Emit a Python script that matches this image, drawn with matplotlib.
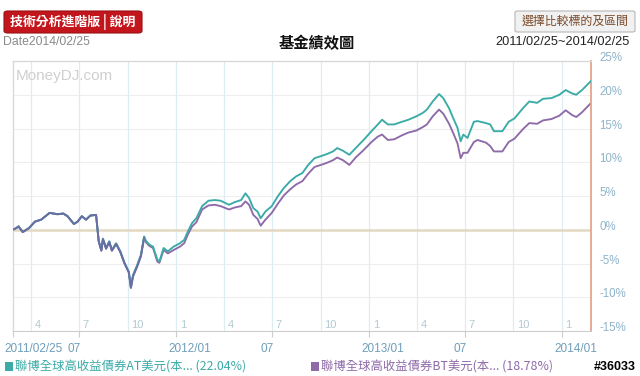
import matplotlib
matplotlib.use("Agg")
import matplotlib.pyplot as plt
import matplotlib.dates as mdates
from matplotlib.patches import FancyBboxPatch, Rectangle
import matplotlib.transforms as mtransforms
import datetime as dt

plt.rcParams['font.family'] = ['Liberation Sans', 'Noto Sans CJK TC', 'DejaVu Sans']

dates = ["2011-02-25","2011-03-04","2011-03-08","2011-03-16","2011-03-28","2011-04-08","2011-04-20",
         "2011-05-06","2011-05-21","2011-06-01","2011-06-09","2011-06-21","2011-06-28","2011-07-06",
         "2011-07-14","2011-07-22","2011-08-02","2011-08-07","2011-08-12","2011-08-15","2011-08-21",
         "2011-08-27","2011-09-01","2011-09-09","2011-09-17","2011-09-25","2011-10-03","2011-10-07",
         "2011-10-11","2011-10-19","2011-10-26","2011-11-01","2011-11-05","2011-11-11","2011-11-18",
         "2011-11-26","2011-11-30","2011-12-08","2011-12-16","2011-12-27","2012-01-08","2012-01-16",
         "2012-01-23","2012-01-31","2012-02-08","2012-02-19","2012-03-02","2012-03-14","2012-03-25",
         "2012-04-10","2012-04-21","2012-05-03","2012-05-11","2012-05-18","2012-05-26","2012-06-03",
         "2012-06-09","2012-06-18","2012-06-30","2012-07-11","2012-07-23","2012-08-04","2012-08-15",
         "2012-08-27","2012-09-07","2012-09-19","2012-10-01","2012-10-12","2012-10-24","2012-11-01",
         "2012-11-12","2012-11-24","2012-12-06","2012-12-21","2013-01-05","2013-01-17","2013-01-25",
         "2013-02-05","2013-02-17","2013-03-04","2013-03-16","2013-03-31","2013-04-12","2013-04-20",
         "2013-05-01","2013-05-13","2013-05-21","2013-06-01","2013-06-09","2013-06-17","2013-06-23",
         "2013-06-28","2013-07-06","2013-07-18","2013-07-25","2013-08-10","2013-08-18","2013-08-25",
         "2013-09-10","2013-09-22","2013-10-03","2013-10-19","2013-10-31","2013-11-15","2013-11-26",
         "2013-12-12","2013-12-27","2014-01-08","2014-01-20","2014-01-28","2014-02-08","2014-02-25"]

at_usd = [0.0,0.25,0.5,-0.35,0.25,1.2,1.5,
          2.5,2.3,2.4,2.0,0.85,1.2,2.0,
          1.5,2.1,2.2,-1.7,-3.0,-1.3,-2.7,
          -1.7,-3.0,-2.0,-3.2,-4.9,-6.2,-8.4,
          -6.7,-5.2,-3.7,-1.0,-1.7,-2.2,-2.5,
          -4.4,-4.7,-2.7,-3.2,-2.5,-2.0,-1.5,
          -0.25,1.0,1.7,3.5,4.3,4.4,4.3,
          3.7,4.1,4.4,5.4,4.7,3.2,2.7,
          1.7,2.7,3.5,4.9,6.2,7.2,7.9,
          8.4,9.6,10.6,10.9,11.2,11.6,12.1,
          11.7,11.1,12.1,13.3,14.6,15.6,16.3,
          15.6,15.6,16.0,16.3,16.8,17.3,17.8,
          19.0,20.1,19.5,18.0,16.5,15.1,13.1,
          14.1,13.6,16.0,16.1,15.8,15.6,14.6,
          14.6,16.0,16.5,18.0,19.0,18.8,19.4,
          19.5,20.0,20.7,20.2,20.0,20.7,22.04]

bt_usd = [0.0,0.25,0.5,-0.35,0.25,1.2,1.5,
          2.5,2.3,2.4,2.0,0.85,1.2,2.0,
          1.5,2.1,2.2,-1.7,-3.1,-1.4,-2.8,
          -1.8,-3.1,-2.1,-3.3,-5.0,-6.3,-8.6,
          -6.9,-5.4,-3.9,-1.2,-1.9,-2.4,-2.7,
          -4.7,-4.9,-3.0,-3.5,-3.0,-2.5,-2.0,
          -0.7,0.5,1.1,3.0,3.6,3.7,3.5,
          3.0,3.3,3.5,4.2,3.7,2.2,1.6,
          0.6,1.5,2.5,3.8,5.1,6.0,6.7,
          7.2,8.3,9.3,9.6,9.9,10.3,10.7,
          10.3,9.6,10.7,11.8,13.0,13.8,14.1,
          13.3,13.4,14.0,14.4,14.7,15.2,15.6,
          16.8,17.8,17.2,15.7,14.3,12.8,10.6,
          11.4,11.4,13.0,13.3,12.9,12.4,11.6,
          11.6,13.0,13.5,14.9,15.8,15.7,16.2,
          16.4,16.9,17.7,17.0,16.7,17.4,18.78]

y_ticks = [-15, -10, -5, 0, 5, 10, 15, 20, 25]
quarter_starts = ["2011-04-01","2011-07-01","2011-10-01","2012-01-01","2012-04-01","2012-07-01",
                  "2012-10-01","2013-01-01","2013-04-01","2013-07-01","2013-10-01","2014-01-01"]
quarter_labels = ["4","7","10","1","4","7","10","1","4","7","10","1"]
major_dates = ["2011-02-25","2011-07-01","2012-01-01","2012-07-01","2013-01-01","2013-07-01","2014-01-01"]
major_labels = ["2011/02/25","07","2012/01","07","2013/01","07","2014/01"]

legend_at = "聯博全球高收益債券AT美元(本... (22.04%)"
legend_bt = "聯博全球高收益債券BT美元(本... (18.78%)"

def d(s):
    return dt.datetime.strptime(s, "%Y-%m-%d")

x = [d(s) for s in dates]

W, H = 640, 376
fig = plt.figure(figsize=(W/100, H/100), dpi=100)
fig.patch.set_facecolor('white')

L, R, T, B = 12.7, 591, 61, 331
ax = fig.add_axes([L/W, 1-B/H, (R-L)/W, (B-T)/H])
ax.set_xlim(d("2011-02-25"), d("2014-02-25"))
ax.set_ylim(-15, 25)

teal = '#3aaba6'
purple = '#8e6aa8'
cjk = ['Noto Sans CJK TC', 'DejaVu Sans']

for v in y_ticks[1:-1]:
    if v != 0:
        ax.axhline(v, color='#eeeeee', lw=0.8, zorder=0)
for q in quarter_starts:
    ax.axvline(d(q), color='#dcedf3', lw=0.9, zorder=0)
ax.axhline(0, color='#e3d9c3', lw=1.8, zorder=1)

ax.plot(x, at_usd, color=teal, lw=1.35, zorder=3)
ax.plot(x, bt_usd, color=purple, lw=1.35, zorder=2.5)
# overlapping early segment: both series on top of each other
ax.plot(x[:32], bt_usd[:32], color='#6a6fa3', lw=1.4, zorder=4)

for sp in ['top', 'left']:
    ax.spines[sp].set_color('#d9d9d9')
    ax.spines[sp].set_linewidth(1.0)
ax.spines['bottom'].set_color('#cccccc')
ax.spines['right'].set_color('#e3a58a')
ax.spines['right'].set_linewidth(1.3)

ax.set_yticks([])
ax.set_xticks([d(s) for s in major_dates])
ax.set_xticklabels([])
ax.tick_params(axis='x', direction='out', length=4, color='#cccccc', width=0.8)

ytr = mtransforms.blended_transform_factory(ax.transAxes, ax.transData)
for v in y_ticks:
    ax.text(1.0, v, f"{v}%", transform=mtransforms.offset_copy(ytr, fig=fig, x=6, y=2, units='points'),
            ha='left', va='center', color='#8fb4ca', fontsize=8.3, clip_on=False)

xtr = mtransforms.blended_transform_factory(ax.transData, ax.transAxes)
for q, lab in zip(quarter_starts, quarter_labels):
    ax.text(d(q), 0.0, lab, transform=mtransforms.offset_copy(xtr, fig=fig, x=2.5, y=1, units='points'),
            ha='left', va='bottom', color='#b3c9d1', fontsize=8)

for s, lab in zip(major_dates, major_labels):
    if lab == "2011/02/25":
        off, ha = -6, 'left'
    elif lab == "07":
        off, ha = 1, 'right'
    else:
        off, ha = -5.5, 'left'
    ax.text(d(s), 0.0, lab, transform=mtransforms.offset_copy(xtr, fig=fig, x=off, y=-9, units='points'),
            ha=ha, va='top', color='#6f9dba', fontsize=8.5, clip_on=False)

ax.text(0.006, 0.97, "MoneyDJ.com", transform=ax.transAxes, ha='left', va='top',
        color='#cfcfcf', fontsize=11)

# header
red_btn = FancyBboxPatch((4/W, 1-33/H), 138/W, 22/H, boxstyle="round,pad=0,rounding_size=0.006",
                         transform=fig.transFigure, facecolor='#c3161c', edgecolor='#9a0f14', lw=0.8)
fig.patches.append(red_btn)
fig.text(73/W, 1-22/H, "技術分析進階版 | 說明", ha='center', va='center', color='white',
         fontsize=9.3, fontweight='bold', family=cjk)

gray_btn = FancyBboxPatch((515/W, 1-32/H), 120/W, 21/H, boxstyle="round,pad=0,rounding_size=0.004",
                          transform=fig.transFigure, facecolor='#f1f1f1', edgecolor='#b8b8b8', lw=0.8)
fig.patches.append(gray_btn)
fig.text(575/W, 1-21.5/H, "選擇比較標的及區間", ha='center', va='center', color='#7a4a2a',
         fontsize=8.6, family=cjk)

fig.text(3/W, 1-42/H, "Date2014/02/25", ha='left', va='center', color='#8a8a8a', fontsize=8.8)
fig.text(317/W, 1-43/H, "基金績效圖", ha='center', va='center', color='#111111',
         fontsize=11, fontweight='bold', family=cjk)
fig.text(630/W, 1-42/H, "2011/02/25~2014/02/25", ha='right', va='center', color='#222222', fontsize=9.2)

# legend
fig.patches.append(Rectangle((5/W, 1-371/H), 8/W, 9/H, transform=fig.transFigure,
                             facecolor=teal, edgecolor='none'))
fig.text(15/W, 1-367/H, legend_at, ha='left', va='center', color=teal, fontsize=8.9, family=cjk)
fig.patches.append(Rectangle((311/W, 1-371/H), 8/W, 9/H, transform=fig.transFigure,
                             facecolor=purple, edgecolor='none'))
fig.text(321/W, 1-367/H, legend_bt, ha='left', va='center', color=purple, fontsize=8.9, family=cjk)
fig.text(636/W, 1-367/H, "#36033", ha='right', va='center', color='black', fontsize=9,
         fontweight='bold')

fig.savefig("out.png", dpi=100, facecolor='white')
